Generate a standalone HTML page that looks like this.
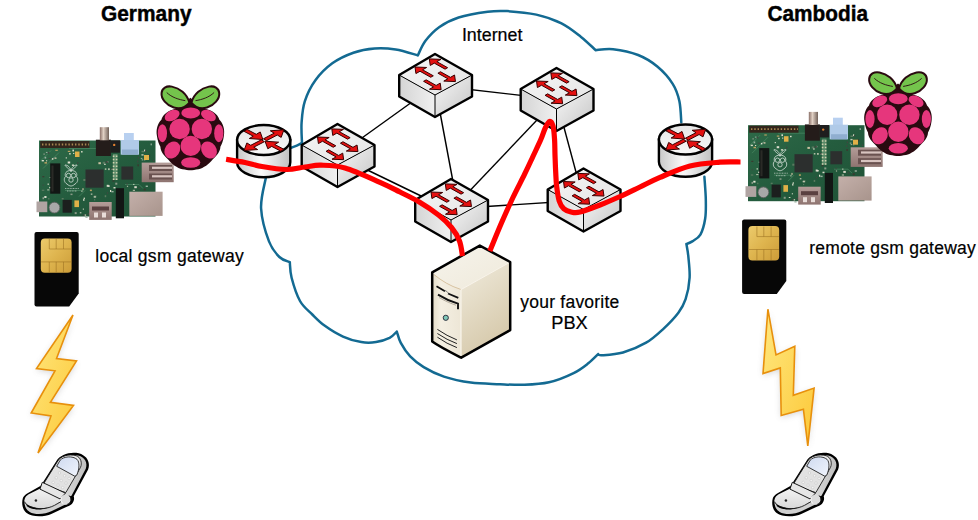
<!DOCTYPE html>
<html><head><meta charset="utf-8">
<style>
html,body{margin:0;padding:0;background:#fff;}
body{width:978px;height:520px;overflow:hidden;position:relative;}
svg{position:absolute;left:0;top:0;}
text{font-family:"Liberation Sans", sans-serif;fill:#000;}
</style></head>
<body>
<svg width="978" height="520" viewBox="0 0 978 520">
<defs>
  <linearGradient id="swTop" x1="0" y1="0" x2="1" y2="1">
    <stop offset="0" stop-color="#f6f6f6"/><stop offset="1" stop-color="#e4e4e4"/>
  </linearGradient>
  <linearGradient id="swLeft" x1="0" y1="0" x2="1" y2="0">
    <stop offset="0" stop-color="#d4d4d4"/><stop offset="1" stop-color="#f0f0f0"/>
  </linearGradient>
  <linearGradient id="swRight" x1="0" y1="0" x2="1" y2="1">
    <stop offset="0" stop-color="#f8f8f8"/><stop offset="1" stop-color="#c4c4c4"/>
  </linearGradient>
  <linearGradient id="rtSide" x1="0" y1="0" x2="1" y2="0">
    <stop offset="0" stop-color="#c8c8c8"/><stop offset="0.45" stop-color="#fafafa"/><stop offset="1" stop-color="#c0c0c0"/>
  </linearGradient>
  <linearGradient id="rtTop" x1="0" y1="0" x2="0" y2="1">
    <stop offset="0" stop-color="#e6e6e6"/><stop offset="1" stop-color="#f8f8f8"/>
  </linearGradient>

  <g id="arrowL">
    <!-- arrow pointing left along +x axis, tip at 0,0 length 18 -->
    <path d="M0,0 L6,-4.2 L6,-1.6 L18,-1.6 L18,1.6 L6,1.6 L6,4.2 Z" fill="#e01010" stroke="#7a0000" stroke-width="0.8" stroke-linejoin="round"/>
  </g>

  <g id="switch">
    <path d="M0,0 L37,21 L37,42.5 L0,63 L-35.8,42.5 L-35.8,21 Z" fill="#000"/>
    <path d="M0,41 L-35.8,21 L-35.8,42.5 L0,63 Z" fill="url(#swLeft)"/>
    <path d="M0,41 L37,21 L37,42.5 L0,63 Z" fill="url(#swRight)"/>
    <path d="M0,0 L37,21 L0,41 L-35.8,21 Z" fill="url(#swTop)"/>
    <path d="M-35.8,21 L0,41 L37,21 M0,41 L0,63" fill="none" stroke="#000" stroke-width="1"/>
    <path d="M0,0 L37,21 L37,42.5 L0,63 L-35.8,42.5 L-35.8,21 Z" fill="none" stroke="#000" stroke-width="2.4" stroke-linejoin="round"/>
    <g transform="matrix(37,20.7,-35.8,20.3,0,0)" fill="#e41010" stroke="#3a0000" stroke-width="1" stroke-linejoin="miter">
      <polygon vector-effect="non-scaling-stroke" points="0.040,0.200 0.210,0.050 0.210,0.164 0.500,0.164 0.500,0.236 0.210,0.236 0.210,0.350"/><polygon vector-effect="non-scaling-stroke" points="0.040,0.600 0.210,0.450 0.210,0.564 0.500,0.564 0.500,0.636 0.210,0.636 0.210,0.750"/><polygon vector-effect="non-scaling-stroke" points="0.940,0.400 0.770,0.250 0.770,0.364 0.500,0.364 0.500,0.436 0.770,0.436 0.770,0.550"/><polygon vector-effect="non-scaling-stroke" points="0.940,0.800 0.770,0.650 0.770,0.764 0.500,0.764 0.500,0.836 0.770,0.836 0.770,0.950"/>
    </g>
  </g>

  <g id="router">
    <path d="M-26.6,0 L-26.6,22.3 A26.6,15 0 0 0 26.6,22.3 L26.6,0 Z" fill="url(#rtSide)" stroke="#000" stroke-width="2.4"/>
    <ellipse cx="0" cy="0" rx="26.6" ry="15" fill="url(#rtTop)" stroke="#000" stroke-width="2.4"/>
    <g transform="matrix(26.6,0,0,15,0,0)" fill="#e41010" stroke="#3a0000" stroke-width="1" stroke-linejoin="miter">
      <polygon vector-effect="non-scaling-stroke" points="-0.030,-0.030 -0.542,-0.099 -0.394,-0.255 -0.738,-0.578 -0.622,-0.702 -0.278,-0.379 -0.131,-0.536"/><polygon vector-effect="non-scaling-stroke" points="0.760,-0.680 0.657,-0.174 0.510,-0.332 0.108,0.042 -0.008,-0.082 0.395,-0.456 0.248,-0.614"/><polygon vector-effect="non-scaling-stroke" points="-0.740,0.700 -0.633,0.195 -0.488,0.354 -0.087,-0.013 0.027,0.113 -0.373,0.479 -0.228,0.638"/><polygon vector-effect="non-scaling-stroke" points="0.050,0.080 0.562,0.144 0.416,0.302 0.758,0.618 0.642,0.742 0.301,0.427 0.155,0.585"/>
    </g>
  </g>
  <linearGradient id="gold" x1="0" y1="0" x2="1" y2="1">
    <stop offset="0" stop-color="#eccb6c"/><stop offset="0.5" stop-color="#deb44e"/><stop offset="1" stop-color="#cc9c38"/>
  </linearGradient>
  <linearGradient id="bolt" x1="0" y1="0" x2="1" y2="1">
    <stop offset="0" stop-color="#ffe880"/><stop offset="1" stop-color="#fcc838"/>
  </linearGradient>
  <filter id="shadow" x="-50%" y="-50%" width="200%" height="200%">
    <feGaussianBlur stdDeviation="3"/>
  </filter>

  <g id="pi">
    <!-- origin = PCB top-left -->
    <linearGradient id="pcb" x1="0" y1="0" x2="1" y2="1">
      <stop offset="0" stop-color="#2e6a48"/><stop offset="0.5" stop-color="#245c3e"/><stop offset="1" stop-color="#1f5236"/>
    </linearGradient>
    <linearGradient id="mauve" x1="0" y1="0" x2="0" y2="1">
      <stop offset="0" stop-color="#b49c98"/><stop offset="1" stop-color="#8e7470"/>
    </linearGradient>
    <linearGradient id="eth" x1="0" y1="0" x2="1" y2="1">
      <stop offset="0" stop-color="#c4b0aa"/><stop offset="1" stop-color="#a8948c"/>
    </linearGradient>
    <linearGradient id="rca" x1="0" y1="0" x2="1" y2="0">
      <stop offset="0" stop-color="#8a7068"/><stop offset="0.4" stop-color="#e0d0c4"/><stop offset="1" stop-color="#706058"/>
    </linearGradient>
    <rect x="0" y="0" width="116.5" height="76" fill="url(#pcb)"/>
    <path d="M2,20 L12,10 M4,28 L20,12 M30,8 H70 M26,50 H44 M40,56 L46,50 M86,44 H100 M100,44 L104,48" stroke="#4a8a64" stroke-width="0.7" fill="none"/>
    <rect x="43.4" y="47.7" width="1.2" height="2" fill="#c8c0a0"/><rect x="63.7" y="21.3" width="2.5" height="2" fill="#5a7a60"/><rect x="98.4" y="23.8" width="1.5" height="2" fill="#3a3a30"/><rect x="9.2" y="57.5" width="1.2" height="1.5" fill="#5a7a60"/><rect x="54.9" y="55.0" width="2.5" height="2" fill="#5a7a60"/><rect x="12.9" y="17.7" width="1.5" height="1.5" fill="#e0e0d0"/><rect x="50.9" y="49.1" width="2" height="1.5" fill="#b8a060"/><rect x="95.3" y="45.7" width="2.5" height="2" fill="#d8d8c8"/><rect x="65.7" y="54.7" width="1.5" height="2" fill="#5a7a60"/><rect x="73.5" y="39.9" width="2" height="1.2" fill="#3a3a30"/><rect x="102.5" y="10.3" width="2.5" height="1.5" fill="#5a7a60"/><rect x="67.7" y="44.3" width="2" height="2" fill="#d8d8c8"/><rect x="5.5" y="21.6" width="2.5" height="1.5" fill="#b8a060"/><rect x="31.5" y="53.1" width="2" height="1.5" fill="#8a9a88"/><rect x="44.3" y="38.5" width="2.5" height="2" fill="#5a7a60"/><rect x="68.7" y="44.8" width="2" height="1.5" fill="#e0e0d0"/><rect x="35.7" y="71.6" width="2" height="2" fill="#8a9a88"/><rect x="3.3" y="35.6" width="2" height="1.2" fill="#3a3a30"/><rect x="71.0" y="49.5" width="1.2" height="2" fill="#e0e0d0"/><rect x="104.7" y="48.0" width="2" height="2" fill="#3a3a30"/><rect x="4.5" y="12.9" width="1.2" height="1.5" fill="#8a9a88"/><rect x="72.3" y="28.1" width="2" height="1.2" fill="#8a9a88"/><rect x="22.7" y="57.5" width="2" height="1.5" fill="#5a7a60"/><rect x="44.2" y="58.4" width="1.2" height="2" fill="#e0e0d0"/><rect x="28.7" y="21.0" width="2.5" height="2" fill="#e0e0d0"/><rect x="109.6" y="14.1" width="1.5" height="2" fill="#3a3a30"/><rect x="37.3" y="62.5" width="1.5" height="1.5" fill="#8a9a88"/><rect x="105.1" y="19.0" width="1.2" height="1.5" fill="#5a7a60"/><rect x="76.3" y="42.2" width="2" height="2" fill="#8a9a88"/><rect x="59.4" y="21.7" width="2.5" height="2" fill="#c8c0a0"/><rect x="3.5" y="56.7" width="1.5" height="2" fill="#8a9a88"/><rect x="28.8" y="10.3" width="2.5" height="1.2" fill="#b8a060"/><rect x="14.7" y="17.0" width="2.5" height="1.2" fill="#8a9a88"/><rect x="26.7" y="16.8" width="1.2" height="1.2" fill="#d8d8c8"/><rect x="2.8" y="49.2" width="2.5" height="1.2" fill="#5a7a60"/><rect x="55.0" y="58.7" width="1.2" height="1.2" fill="#5a7a60"/><rect x="16.2" y="17.0" width="1.2" height="1.5" fill="#c8c0a0"/><rect x="74.5" y="46.5" width="2" height="1.5" fill="#d8d8c8"/><rect x="16.3" y="9.2" width="2.5" height="1.2" fill="#b8a060"/>
    <rect x="5.6" y="16.3" width="1.6" height="1.8" fill="#9ab0a0"/><rect x="8.8" y="11.5" width="1.6" height="1.8" fill="#404840"/><rect x="6.9" y="11.4" width="1.6" height="1" fill="#9ab0a0"/><rect x="2.7" y="19.5" width="2.2" height="1.4" fill="#d8dcc8"/><rect x="9.7" y="17.5" width="2.2" height="1" fill="#404840"/><rect x="7.0" y="19.8" width="1.2" height="1" fill="#d8dcc8"/><rect x="30.1" y="12.6" width="1.6" height="1.4" fill="#d8dcc8"/><rect x="38.1" y="21.6" width="1.2" height="1.8" fill="#404840"/><rect x="33.4" y="9.1" width="1.6" height="1.8" fill="#d8dcc8"/><rect x="32.9" y="24.0" width="2.2" height="1.4" fill="#d8dcc8"/><rect x="34.1" y="12.4" width="1.2" height="1" fill="#e8e8d8"/><rect x="42.0" y="10.6" width="1.6" height="1.4" fill="#d8dcc8"/><rect x="42.3" y="50.2" width="1.2" height="1" fill="#d8dcc8"/><rect x="72.4" y="50.5" width="2.2" height="1.4" fill="#9ab0a0"/><rect x="54.7" y="55.7" width="2.2" height="1.4" fill="#c0c8b0"/><rect x="51.8" y="53.1" width="1.6" height="1" fill="#d8dcc8"/><rect x="44.7" y="57.1" width="1.2" height="1.4" fill="#d8dcc8"/><rect x="67.9" y="51.8" width="1.2" height="1.4" fill="#404840"/><rect x="69.1" y="27.8" width="1.6" height="1.8" fill="#c0c8b0"/><rect x="68.1" y="20.7" width="1.2" height="1.4" fill="#c0c8b0"/><rect x="71.9" y="27.7" width="1.6" height="1" fill="#404840"/><rect x="66.7" y="20.7" width="2.2" height="1.8" fill="#404840"/><rect x="65.8" y="27.9" width="1.6" height="1.4" fill="#c0c8b0"/><rect x="65.1" y="23.3" width="1.6" height="1" fill="#e8e8d8"/><rect x="96.5" y="4.6" width="1.2" height="1.8" fill="#c0c8b0"/><rect x="102.4" y="13.7" width="2.2" height="1.4" fill="#c0c8b0"/><rect x="111.6" y="3.0" width="1.2" height="1.8" fill="#9ab0a0"/><rect x="98.1" y="20.0" width="1.2" height="1.8" fill="#404840"/><rect x="98.8" y="16.3" width="1.2" height="1.8" fill="#404840"/><rect x="114.0" y="19.4" width="1.2" height="1.4" fill="#404840"/><rect x="87.3" y="42.9" width="1.6" height="1" fill="#404840"/><rect x="106.7" y="45.1" width="2.2" height="1.4" fill="#9ab0a0"/><rect x="94.2" y="43.4" width="1.2" height="1" fill="#d8dcc8"/><rect x="99.4" y="47.2" width="2.2" height="1" fill="#404840"/><rect x="93.8" y="49.3" width="2.2" height="1" fill="#c0c8b0"/><rect x="87.9" y="45.3" width="1.2" height="1" fill="#c0c8b0"/><rect x="3.6" y="44.1" width="1.2" height="1" fill="#404840"/><rect x="5.3" y="55.6" width="2.2" height="1.8" fill="#e8e8d8"/><rect x="8.2" y="48.9" width="2.2" height="1" fill="#c0c8b0"/><rect x="10.3" y="46.4" width="2.2" height="1.4" fill="#e8e8d8"/><rect x="10.7" y="36.5" width="1.6" height="1" fill="#d8dcc8"/><rect x="8.6" y="43.0" width="1.2" height="1.4" fill="#d8dcc8"/><rect x="45.5" y="73.9" width="1.6" height="1.4" fill="#c0c8b0"/><rect x="40.8" y="71.8" width="1.6" height="1" fill="#d8dcc8"/><rect x="48.6" y="72.6" width="2.2" height="1.4" fill="#404840"/><rect x="43.8" y="68.1" width="1.2" height="1" fill="#d8dcc8"/><rect x="46.4" y="75.9" width="2.2" height="1.4" fill="#9ab0a0"/><rect x="43.9" y="73.9" width="1.6" height="1.4" fill="#404840"/><rect x="107.4" y="14.5" width="2.2" height="1" fill="#404840"/><rect x="105.0" y="9.1" width="1.2" height="1.8" fill="#d8dcc8"/><rect x="101.8" y="17.4" width="1.6" height="1" fill="#9ab0a0"/><rect x="105.9" y="9.7" width="1.2" height="1.8" fill="#404840"/><rect x="102.7" y="18.9" width="1.6" height="1" fill="#9ab0a0"/><rect x="105.2" y="16.0" width="2.2" height="1.4" fill="#c0c8b0"/>
    <rect x="1.2" y="0.5" width="49.3" height="7" fill="#33261c"/>
    <path d="M3,4 H50" stroke="#a88850" stroke-width="1.8" stroke-dasharray="1.4,1.9"/>
    <rect x="11.2" y="22.9" width="10.1" height="30.3" fill="#121614"/>
    <rect x="12.5" y="25" width="2" height="26" fill="#2a2a26"/>
    <rect x="46.5" y="29" width="18.2" height="18.2" fill="#2c2f2e"/>
    <rect x="82.4" y="26" width="11.8" height="13.1" fill="#2c2f2e"/>
    <g fill="none" stroke="#c4d4ca" stroke-width="0.9">
      <path d="M32,31 C29,27 26,26 26,24.5 C29,24.5 31.5,27 32,31 C32.5,27 35,24.5 38,24.5 C38,26 35,27 32,31"/>
      <path d="M32,30 C27,30 25.5,33 26.5,36 C24.5,38 25,42 28,43.5 C29.5,45 31,45.5 32,45.5 C33,45.5 34.5,45 36,43.5 C39,42 39.5,38 37.5,36 C38.5,33 37,30 32,30 Z"/>
      <circle cx="29.5" cy="35" r="2.2"/><circle cx="34.5" cy="35" r="2.2"/><circle cx="32" cy="39.5" r="2.2"/>
    </g>
    <path d="M26,48 H40 M28,50.5 H38" stroke="#b8c8bc" stroke-width="0.8" stroke-dasharray="1,0.6"/>
    <rect x="23.6" y="59.4" width="9.2" height="12.8" fill="#1c1f1e"/>
    <rect x="35.4" y="59.9" width="4.6" height="6.7" fill="#e0b048"/>
    <rect x="73.9" y="13.5" width="4.6" height="26" fill="#5a8a68"/>
    <path d="M74.6,15 V40 M77.6,15 V40" stroke="#d0d0b0" stroke-width="1.6" stroke-dasharray="1.5,1.8"/>
    <rect x="36" y="11" width="4.5" height="5.5" fill="#e0b048"/>
    <rect x="105" y="14.5" width="5" height="5" fill="#e0b048"/>
    <rect x="76.8" y="47.7" width="8.2" height="30.1" fill="#121614"/>
    <rect x="-2.5" y="61" width="10.8" height="10.7" fill="#b0a4a2"/>
    <circle cx="15.4" cy="67.1" r="5.4" fill="#a8a8a8" stroke="#606060" stroke-width="0.8"/>
    <!-- composite -->
    <rect x="56.9" y="-0.8" width="15" height="16.3" fill="#241c1a"/>
    <rect x="60.8" y="-13.3" width="9.2" height="13.1" fill="url(#rca)"/>
    <rect x="71.9" y="-0.2" width="9.2" height="12.4" fill="#1e1e1e"/>
    <circle cx="75.2" cy="4.4" r="1.2" fill="#e08030"/>
    <!-- audio -->
    <rect x="85" y="-7.5" width="9.8" height="8" fill="#b8d0f0"/>
    <rect x="81.7" y="-0.5" width="18.3" height="14.7" fill="#b0cae8"/>
    <rect x="83" y="9" width="16" height="5" fill="#90aed0"/>
    <!-- USB -->
    <rect x="102.7" y="22.1" width="32" height="19.6" fill="url(#mauve)"/>
    <rect x="110" y="24.5" width="23" height="6" fill="#6a5250"/>
    <rect x="110" y="33" width="23" height="6" fill="#6a5250"/>
    <rect x="113" y="26.2" width="20" height="2.2" fill="#d8c4c0"/>
    <rect x="113" y="34.7" width="20" height="2.2" fill="#d8c4c0"/>
    <!-- ethernet -->
    <rect x="90.3" y="51.2" width="33.3" height="24.2" fill="url(#eth)"/>
    <!-- HDMI -->
    <rect x="50.2" y="61.5" width="22.5" height="17.9" fill="url(#mauve)"/>
    <rect x="53" y="66" width="17" height="4" fill="#5a4040"/>
    <rect x="55" y="72" width="4" height="5" fill="#e8dcd8"/>
    <rect x="63" y="72" width="4" height="5" fill="#e8dcd8"/>
  </g>

  <g id="logo">
    <!-- origin at berry center top -->
    <path d="M0,-1 C-7,-1 -13,0 -18,2 C-24,4 -28,8 -29,12 C-33,16 -34.5,22 -33.5,28 C-33,33 -31,37 -30,39 C-30,44 -26,48 -22,52 C-19,56 -13,60.5 -8,61.5 C-5,62 -2,62.5 0,62.5 C2,62.5 5,62 8,61.5 C13,60.5 19,56 22,52 C26,48 30,44 30,39 C31,37 33,33 33.5,28 C34.5,22 33,16 29,12 C28,8 24,4 18,2 C13,0 7,-1 0,-1 Z" fill="#2a0a10"/>
    <path d="M-16,2 L-6,-5 L0,-10 L6,-5 L16,2 L16,6 L-16,6 Z" fill="#2a0a10"/>
    <g stroke="#2a0a10" stroke-width="2.2" fill="#74c44c" stroke-linejoin="round">
      <g transform="translate(-1,-5) rotate(201) scale(0.92,-0.92)"><path d="M0,0 C6,-8.5 16,-11 24,-9.5 C30,-8.5 33.5,-4 32,1 C30.5,7 22,11.5 14,11 C7,10.5 2,6 0,0 Z"/><path d="M5,-0.5 C12,1 20,1.5 27,-1.5" fill="none" stroke-width="0.9"/></g>
      <g transform="scale(-1,1) translate(-1,-5) rotate(201) scale(0.92,-0.92)"><path d="M0,0 C6,-8.5 16,-11 24,-9.5 C30,-8.5 33.5,-4 32,1 C30.5,7 22,11.5 14,11 C7,10.5 2,6 0,0 Z"/><path d="M5,-0.5 C12,1 20,1.5 27,-1.5" fill="none" stroke-width="0.9"/></g>
    </g>
    <g fill="#e6367c">
      <ellipse cx="0.3" cy="5.2" rx="9.4" ry="5.5"/>
      <ellipse cx="-18.3" cy="7.8" rx="8" ry="5.1" transform="rotate(-28 -18.3 7.8)"/>
      <ellipse cx="18.1" cy="7.8" rx="8" ry="5.1" transform="rotate(28 18.1 7.8)"/>
      <circle cx="-10.8" cy="21.3" r="10.2"/>
      <circle cx="11.4" cy="21.3" r="10.2"/>
      <ellipse cx="-28" cy="25.5" rx="4.6" ry="9"/>
      <ellipse cx="28.4" cy="25.5" rx="4.6" ry="9"/>
      <circle cx="0.3" cy="38.2" r="10.2"/>
      <ellipse cx="-18.1" cy="42.3" rx="7.3" ry="9.1" transform="rotate(35 -18.1 42.3)"/>
      <ellipse cx="18.6" cy="42.3" rx="7.3" ry="9.1" transform="rotate(-35 18.6 42.3)"/>
      <ellipse cx="0.3" cy="54.8" rx="9.6" ry="5.3"/>
    </g>
  </g>

  <g id="sim">
    <!-- origin top-left of card, 44.2 x 74.5 -->
    <path d="M2,0 H42.2 Q44.2,0 44.2,2 V61.5 L34.7,74.5 H2 Q0,74.5 0,72.5 V2 Q0,0 2,0 Z" fill="#070707"/>
    <rect x="6.3" y="6.5" width="30.8" height="34.4" rx="4" fill="url(#gold)"/>
    <path d="M14.8,7 V17.1 H37 M21.7,7 V17.1 M29,7 V17.1 M6.5,30 H37 M14.8,30 V40.5 M21.7,30 V40.5 M29,30 V40.5" stroke="#9a7020" stroke-width="0.7" fill="none" opacity="0.8"/>
  </g>

  <g id="phone">
    <!-- zoom frame: 520 units = 72 px -->
    <g transform="scale(0.13846)">
      <linearGradient id="phBase" x1="0" y1="0" x2="0" y2="1"><stop offset="0" stop-color="#f4f4f4"/><stop offset="1" stop-color="#d8d8d8"/></linearGradient>
      <linearGradient id="phScr" x1="0" y1="0" x2="1" y2="1"><stop offset="0" stop-color="#cfdaf0"/><stop offset="1" stop-color="#f0f4fc"/></linearGradient>
      <linearGradient id="phSide" x1="0" y1="0" x2="1" y2="0"><stop offset="0" stop-color="#f0f0f0"/><stop offset="1" stop-color="#c0c0c0"/></linearGradient>
      <!-- silhouette -->
      <path d="M150,272 L262,95 C290,48 360,25 425,38 C485,55 510,105 492,155 L388,348 C398,378 378,412 342,422 L230,474 C170,502 90,500 48,470 C18,447 10,400 20,365 C28,340 55,325 80,312 Z" fill="#000"/>
      <!-- handset side band -->
      <path d="M165,278 L275,102 C300,62 360,45 420,55 C470,68 490,108 475,150 L372,345 L300,370 Z" fill="url(#phSide)"/>
      <!-- base side band -->
      <path d="M34,370 C28,400 35,440 70,462 C110,485 180,480 230,455 L335,405 C345,398 350,390 350,385 L330,370 L220,425 C160,452 90,450 50,420 Z" fill="#d0d0d0"/>
      <!-- base top face -->
      <path d="M150,290 L70,330 C40,345 30,365 34,385 C40,410 80,430 140,436 C180,438 220,428 250,412 L320,372 Z" fill="url(#phBase)"/>
      <path d="M34,388 C40,412 80,432 140,438 C180,440 220,430 250,414 L320,374" fill="none" stroke="#111" stroke-width="6"/>
      <!-- handset face -->
      <path d="M165,268 L272,95 C295,58 350,42 405,55 C440,68 450,108 437,140 L331,322 Z" fill="#e2e2e2" stroke="#111" stroke-width="6" stroke-linejoin="round"/>
      <path d="M284,93 C305,65 355,55 400,68 C428,80 435,115 425,140" fill="none" stroke="#fafafa" stroke-width="8"/>
      <!-- screen -->
      <path d="M265,132 L290,88 C315,60 380,55 412,82 C432,102 430,150 410,196 L396,204 Z" fill="url(#phScr)" stroke="#111" stroke-width="6" stroke-linejoin="round"/>
      <!-- keypad band -->
      <path d="M161,248 L328,326 L290,368 L144,297 Z" fill="#e6e6e6" stroke="#111" stroke-width="7" stroke-linejoin="round"/>
      <g fill="#f4f4f4" stroke="#c4c4c4" stroke-width="4">
        <circle cx="285" cy="180" r="9"/><circle cx="322" cy="200" r="9"/><circle cx="355" cy="220" r="9"/>
        <circle cx="262" cy="215" r="9"/><circle cx="298" cy="235" r="9"/><circle cx="332" cy="253" r="9"/>
        <circle cx="240" cy="248" r="9"/><circle cx="275" cy="268" r="9"/><circle cx="308" cy="286" r="9"/>
      </g>
      <!-- hinge -->
      <circle cx="330" cy="372" r="37" fill="#dcdcdc"/>
      <path d="M300,355 A36,36 0 0 0 310,402" stroke="#fff" stroke-width="6" fill="none"/>
      <path d="M355,343 A37,37 0 0 1 340,408" stroke="#111" stroke-width="7" fill="none"/>
      <circle cx="115" cy="380" r="9" fill="#222"/>
    </g>
  </g>
</defs>

<!-- cloud -->
<path d="M267.0,176.0 C266.8,176.5 266.6,173.6 265.6,179.0 C264.6,184.4 260.5,198.1 261.1,208.5 C261.7,218.9 265.9,233.3 269.0,241.4 C272.1,249.5 275.9,253.5 279.4,257.0 C282.9,260.5 288.1,261.3 289.8,262.2 M289.8,262.2 C290.1,264.8 289.9,271.3 291.6,277.8 C293.3,284.3 296.6,294.9 300.0,301.0 C303.4,307.1 308.2,310.4 312.3,314.5 C316.4,318.6 319.4,321.9 324.5,325.6 C329.6,329.3 336.9,333.9 343.0,336.6 C349.1,339.4 355.8,341.2 361.3,342.1 C366.8,343.0 371.3,342.8 376.0,342.1 C380.7,341.4 386.1,339.6 389.6,337.9 C393.1,336.1 395.6,332.7 396.8,331.6 M396.8,331.6 C397.5,333.5 398.6,338.8 400.8,342.9 C403.0,347.0 406.4,352.4 410.2,356.4 C414.0,360.4 418.1,363.7 423.7,367.1 C429.3,370.5 436.0,374.0 443.9,376.6 C451.8,379.2 461.4,381.3 470.8,382.6 C480.2,383.9 491.1,383.8 500.0,384.2 C508.9,384.6 516.3,385.1 524.5,384.8 C532.7,384.5 540.8,384.2 549.0,382.3 C557.2,380.4 567.1,376.3 573.6,373.1 C580.1,369.9 584.2,366.5 588.3,363.3 C592.4,360.1 596.6,355.6 598.2,354.1 M598.2,354.1 C598.8,354.3 597.7,355.6 601.8,355.3 C605.9,355.0 615.6,354.6 623.0,352.5 C630.4,350.4 639.4,346.6 646.1,342.7 C652.8,338.8 658.0,333.8 663.4,328.8 C668.8,323.8 674.7,317.6 678.4,312.7 C682.1,307.8 683.7,305.0 685.6,299.2 C687.5,293.4 689.2,284.9 689.6,277.7 C690.0,270.5 688.8,261.8 688.3,256.2 C687.8,250.6 686.7,246.0 686.4,244.0 M686.4,244.0 C687.4,243.6 690.0,243.0 692.3,241.4 C694.6,239.8 698.2,238.4 700.4,234.6 C702.5,230.8 704.3,224.3 705.2,218.5 C706.1,212.7 705.9,206.6 705.8,199.6 C705.7,192.6 704.6,180.5 704.4,176.7 M681.3,122.3 C681.0,118.8 680.8,107.6 679.4,101.2 C678.0,94.8 676.4,89.6 672.7,83.8 C669.0,78.0 663.1,71.3 657.3,66.5 C651.5,61.7 645.5,57.9 638.1,55.0 C630.7,52.1 620.2,50.0 613.1,49.2 C606.0,48.4 598.7,50.0 595.8,50.2 M595.8,50.2 C593.3,48.0 586.7,41.4 581.0,36.9 C575.3,32.4 569.0,27.0 561.5,23.3 C554.0,19.6 545.4,16.6 536.3,14.6 C527.2,12.6 515.2,11.6 507.1,11.1 C499.0,10.6 495.8,10.6 487.7,11.7 C479.6,12.8 466.7,14.9 458.6,17.5 C450.5,20.1 444.6,23.3 439.1,27.2 C433.6,31.1 429.1,36.1 425.5,40.8 C421.9,45.5 419.1,53.0 417.8,55.4 M417.8,55.4 C414.1,54.4 402.9,50.6 395.7,49.5 C388.5,48.4 381.7,48.0 374.6,48.5 C367.6,49.0 360.4,50.2 353.4,52.7 C346.3,55.2 338.6,58.7 332.3,63.3 C326.0,67.9 320.0,73.9 315.4,80.2 C310.8,86.5 307.1,94.2 304.8,101.3 C302.5,108.3 302.1,115.5 301.6,122.5 C301.1,129.4 301.9,139.6 302.0,143.0 M302.0,143.0 C300.9,143.5 297.7,145.3 295.5,146.2 C293.3,147.1 290.1,148.1 289.0,148.5" fill="none" stroke="#136a92" stroke-width="2.5" stroke-linejoin="miter" stroke-linecap="round"/>

<!-- links -->
<g stroke="#000" stroke-width="1.4">
  <line x1="435" y1="85.5" x2="337.5" y2="155.5"/>
  <line x1="435" y1="85.5" x2="556.5" y2="99.5"/>
  <line x1="435" y1="85.5" x2="458.4" y2="210.5"/>
  <line x1="337.5" y1="155.5" x2="451" y2="210.5"/>
  <line x1="451" y1="210.5" x2="556.5" y2="99.5"/>
  <line x1="451" y1="208.8" x2="583.5" y2="200.3"/>
  <line x1="556.5" y1="99.5" x2="583.5" y2="200"/>
</g>

<!-- devices -->
<use href="#switch" x="435" y="54"/>
<use href="#switch" x="337.5" y="124"/>
<use href="#switch" x="451" y="179"/>
<use href="#switch" x="556.5" y="68"/>
<use href="#switch" x="583.5" y="168.5"/>
<use href="#router" x="263.7" y="140"/>
<use href="#router" x="685.5" y="139.5"/>

<!-- server -->
<g>
  <linearGradient id="srvR" x1="0" y1="0" x2="0.4" y2="1">
    <stop offset="0" stop-color="#f0ebdd"/><stop offset="1" stop-color="#d6c9ab"/>
  </linearGradient>
  <linearGradient id="srvF" x1="0" y1="0" x2="1" y2="0">
    <stop offset="0" stop-color="#e4dcc8"/><stop offset="0.3" stop-color="#f4efe2"/><stop offset="1" stop-color="#ede6d6"/>
  </linearGradient>
  <linearGradient id="srvT" x1="0" y1="0" x2="1" y2="1">
    <stop offset="0" stop-color="#f6f4ec"/><stop offset="1" stop-color="#efe9da"/>
  </linearGradient>
  <path d="M479.8,245.6 L510.2,262 L510.2,330.1 L461.2,357.7 C450,352 440,347 432.2,341.5 L432.2,272.3 Z" fill="#e8e0cc"/>
  <path d="M461,289.6 L510.2,262 L510.2,330.1 L461.2,357.7 Z" fill="url(#srvR)"/>
  <path d="M432.2,272.3 C440,280 450,286 461,289.6 L461.2,357.7 C450,352 440,347 432.2,341.5 Z" fill="url(#srvF)"/>
  <path d="M432.2,272.3 L479.8,245.6 L510.2,262 L461,289.6 C450,286 440,280 432.2,272.3 Z" fill="url(#srvT)"/>
  <path d="M434,274.6 C442,281 450,286 460.5,289.3" fill="none" stroke="#c8a878" stroke-width="0.6"/>
  <path d="M461,290 V357" stroke="#fbf8f0" stroke-width="1"/>
  <path d="M461,289.6 L510,262.2" stroke="#fbf8f0" stroke-width="0.8"/>
  <!-- drive slots -->
  <path d="M436.5,286.2 L445,291.3 M448,293.5 L458.3,297.8" stroke="#111" stroke-width="1.8" fill="none"/>
  <path d="M444.5,291 C446,290 447.5,292 448.5,293.5" stroke="#555" stroke-width="0.8" fill="none"/>
  <path d="M438,294.6 C445,299 451,301.5 458,303.6 L458,309.2" stroke="#111" stroke-width="1.9" fill="none"/>
  <path d="M439,297.5 C446,301.5 451,303.5 456,305.2" stroke="#8a8070" stroke-width="0.6" fill="none"/>
  <circle cx="445.8" cy="317.8" r="2.6" fill="#80c8b8" stroke="#223" stroke-width="0.9"/>
  <path d="M437.4,329.4 Q447,336 456.9,339.9 M437.4,333.5 Q447,340 456.9,343.6 M437.4,337.2 Q447,344 456.9,347.6" stroke="#222" stroke-width="1" fill="none"/>
  <path d="M479.8,245.6 L510.2,262 L510.2,330.1 L461.2,357.7 C450,352 440,347 432.2,341.5 L432.2,272.3 Z" fill="none" stroke="#000" stroke-width="2.5" stroke-linejoin="round"/>
</g>

<!-- red lines -->
<path d="M226.1,159.3 C229.2,159.8 239.0,161.3 245.0,162.5 C251.0,163.7 255.1,165.3 262.0,166.5 C268.9,167.7 279.3,169.4 286.5,169.5 C293.7,169.6 299.2,167.7 305.0,167.0 C310.8,166.3 314.3,165.0 321.0,165.2 C327.7,165.4 335.2,165.2 345.0,168.0 C354.8,170.8 370.8,178.3 380.0,182.3 C389.2,186.3 393.4,188.7 400.0,192.0 C406.6,195.3 412.9,198.2 419.3,202.0 C425.7,205.8 433.1,210.8 438.5,215.0 C443.9,219.2 448.0,223.2 451.5,227.5 C455.0,231.8 457.7,236.2 459.5,241.0 C461.3,245.8 462.0,253.5 462.5,256.0" fill="none" stroke="#ff0000" stroke-width="5.2"/>
<path d="M489.8,251.0 C491.7,246.5 497.2,232.8 501.0,224.0 C504.8,215.2 508.8,206.3 512.7,198.0 C516.6,189.7 521.3,181.0 524.6,174.2 C527.9,167.4 530.0,162.8 532.7,157.0 C535.4,151.2 538.7,144.5 540.8,139.6 C542.9,134.7 544.0,130.5 545.5,127.5 C547.0,124.5 548.2,121.8 549.5,121.5 C550.8,121.2 552.1,122.9 553.0,126.0 C553.9,129.1 554.3,135.2 554.6,140.0 C554.9,144.8 554.8,149.7 555.0,155.0 C555.2,160.3 555.4,166.8 555.7,172.0 C556.0,177.2 556.0,181.2 556.6,186.0 C557.2,190.8 558.0,197.2 559.2,201.0 C560.4,204.8 561.8,207.0 563.8,208.8 C565.8,210.6 568.3,211.4 571.0,212.0 C573.7,212.6 575.2,213.3 580.0,212.1 C584.8,210.9 593.3,207.6 600.0,205.0 C606.7,202.4 613.3,199.5 620.0,196.5 C626.7,193.5 633.3,190.2 640.0,187.0 C646.7,183.8 651.7,180.9 660.0,177.4 C668.3,173.9 680.0,168.5 690.0,166.0 C700.0,163.5 711.6,162.9 720.0,162.2 C728.4,161.5 737.1,162.0 740.5,162.0" fill="none" stroke="#ff0000" stroke-width="5.2"/>

<!-- left side -->
<use href="#pi" x="39" y="140.5"/>
<use href="#logo" x="190.4" y="107.7"/>
<use href="#sim" x="34.5" y="231.9"/>
<polygon points="73,315 56.5,358.5 76.5,361 50.4,402.3 73.5,405.4 38,453 51,416 31.2,413 55,370.8 36.5,368.5" fill="#777" opacity="0.3" filter="url(#shadow)" transform="translate(0,2)"/>
<polygon points="73,315 56.5,358.5 76.5,361 50.4,402.3 73.5,405.4 38,453 51,416 31.2,413 55,370.8 36.5,368.5" fill="url(#bolt)" stroke="#e8900c" stroke-width="1.6" stroke-linejoin="miter"/>
<use href="#phone" x="20" y="448"/>

<!-- right side -->
<use href="#pi" x="748" y="125.2"/>
<use href="#logo" x="898" y="93.5"/>
<use href="#sim" x="742.1" y="219.5"/>
<polygon points="767.9,309.2 776,354.9 794.8,346.2 793.3,395.3 814.1,388.1 807.8,445.8 803.4,409.2 781.2,415.5 780.3,367.9 763,373.6" fill="#777" opacity="0.3" filter="url(#shadow)" transform="translate(0,2)"/>
<polygon points="767.9,309.2 776,354.9 794.8,346.2 793.3,395.3 814.1,388.1 807.8,445.8 803.4,409.2 781.2,415.5 780.3,367.9 763,373.6" fill="url(#bolt)" stroke="#e8900c" stroke-width="1.6"/>
<use href="#phone" x="770" y="448"/>

<!-- text -->
<text x="101" y="20.8" font-size="22.5" font-weight="bold" stroke="#000" stroke-width="0.45" textLength="90.5" lengthAdjust="spacingAndGlyphs">Germany</text>
<text x="767.5" y="20.8" font-size="22.5" font-weight="bold" stroke="#000" stroke-width="0.45" textLength="100.5" lengthAdjust="spacingAndGlyphs">Cambodia</text>
<text x="461.9" y="40.7" font-size="17.5" stroke="#000" stroke-width="0.2" textLength="60.5" lengthAdjust="spacingAndGlyphs">Internet</text>
<text x="95.3" y="262" font-size="17.5" stroke="#000" stroke-width="0.2" textLength="148.5">local gsm gateway</text>
<text x="809.3" y="253.7" font-size="17.5" stroke="#000" stroke-width="0.2" textLength="166.5">remote gsm gateway</text>
<text x="520.3" y="307.7" font-size="17.5" stroke="#000" stroke-width="0.2" textLength="99">your favorite</text>
<text x="551.3" y="328.6" font-size="17.5" stroke="#000" stroke-width="0.2" textLength="36.5" lengthAdjust="spacingAndGlyphs">PBX</text>

</svg>
</body></html>
